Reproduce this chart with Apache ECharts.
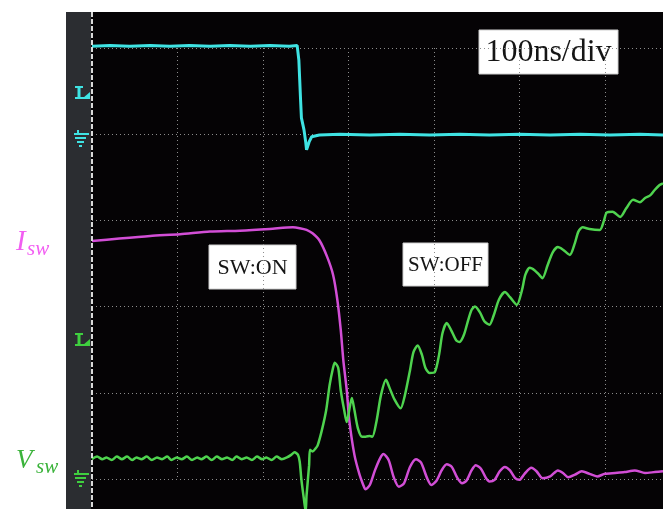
<!DOCTYPE html>
<html>
<head>
<meta charset="utf-8">
<script src="https://cdn.jsdelivr.net/npm/echarts@6/dist/echarts.min.js"></script>
<style>
html,body{margin:0;padding:0;background:#fff;}
#chart{width:671px;height:509px;}
</style>
</head>
<body>
<div id="chart"></div>
<script>
// time axis in ns (100 ns/div), vertical in screen divisions
const timeDiv = 100;
const vertDiv = 1;
const timeSpan = 668;
const vertSpan = 5;

// Channel 1 (cyan): gate drive
const cyanTrace = [[0,5.02],[21,5.03],[44,5.02],[68,5.03],[91,5.02],[114,5.03],[138,5.02],[161,5.03],[185,5.02],[208,5.03],[231,5.02],[240,5.03],
  [242,4.86],[243,4.63],[244,4.40],[245,4.19],[248,4.05],[250,3.91],[251,3.82],[254,3.91],[257,3.97],[266,3.99],[290,4.00],[325,3.99],[360,4.00],
  [395,3.99],[430,4.00],[465,3.99],[500,4.00],[536,3.99],[571,4.00],[606,3.99],[641,4.00],[668,3.99]];

// Isw (magenta)
const iswTrace = [[0,2.76],[32,2.79],[68,2.82],[103,2.84],[138,2.87],[173,2.88],[208,2.90],[235,2.92],[243,2.91],[251,2.89],[258,2.85],[266,2.77],
  [275,2.58],[282,2.37],[287,2.08],[291,1.73],[294,1.38],[298,1.03],[301,0.68],[307,0.28],[313,0.05],[317,-0.06],[320,-0.12],[325,-0.07],
  [331,0.10],[337,0.24],[341,0.29],[347,0.22],[353,0.02],[359,-0.09],[365,-0.05],[372,0.14],[379,0.23],[385,0.19],[392,0.01],[397,-0.07],
  [403,-0.02],[409,0.10],[415,0.17],[421,0.14],[427,0.02],[433,-0.05],[438,-0.02],[444,0.10],[449,0.16],[455,0.12],[461,0.01],[465,-0.03],
  [471,-0.01],[477,0.09],[483,0.14],[489,0.10],[495,0.01],[500,-0.01],[506,0.06],[514,0.13],[520,0.09],[527,0.01],[536,0.03],[545,0.10],
  [551,0.07],[557,0.02],[565,0.05],[573,0.09],[582,0.06],[591,0.03],[600,0.06],[612,0.07],[623,0.08],[635,0.10],[647,0.07],[658,0.08],[668,0.09]];

// Vsw (green)
const vswTrace = [[0,0.23],[6,0.26],[12,0.23],[17,0.25],[23,0.22],[29,0.26],[35,0.23],[41,0.26],[47,0.22],[52,0.25],[58,0.23],[64,0.26],
  [70,0.22],[76,0.25],[82,0.23],[88,0.26],[93,0.22],[99,0.25],[105,0.23],[111,0.26],[117,0.22],[123,0.25],[128,0.23],[134,0.26],[140,0.22],
  [146,0.26],[152,0.23],[158,0.25],[164,0.22],[169,0.26],[175,0.23],[181,0.25],[187,0.22],[193,0.26],[199,0.23],[204,0.25],[210,0.22],
  [216,0.26],[222,0.23],[228,0.25],[233,0.28],[237,0.31],[241,0.28],[243,0.20],[245,-0.01],[248,-0.24],[250,-0.38],[251,-0.19],[254,0.16],
  [255,0.34],[258,0.32],[262,0.36],[264,0.39],[269,0.57],[274,0.80],[278,1.09],[282,1.29],[284,1.35],[288,1.29],[291,1.03],[295,0.80],
  [298,0.66],[302,0.86],[304,0.94],[307,0.80],[311,0.59],[316,0.49],[320,0.49],[325,0.50],[328,0.49],[333,0.68],[338,0.97],[344,1.15],
  [348,1.06],[354,0.92],[361,0.82],[366,0.97],[372,1.26],[376,1.47],[381,1.55],[386,1.44],[390,1.29],[395,1.23],[401,1.24],[406,1.44],
  [410,1.69],[415,1.81],[420,1.73],[426,1.61],[430,1.59],[435,1.67],[440,1.84],[444,1.96],[448,2.00],[454,1.93],[459,1.83],[465,1.79],
  [470,1.90],[476,2.08],[483,2.17],[489,2.11],[497,2.02],[503,2.19],[507,2.37],[512,2.45],[518,2.42],[523,2.37],[527,2.33],[533,2.48],
  [539,2.63],[545,2.69],[551,2.66],[559,2.60],[565,2.74],[569,2.87],[574,2.92],[582,2.90],[594,2.89],[599,3.00],[602,3.09],[609,3.10],
  [618,3.04],[625,3.14],[633,3.24],[641,3.21],[647,3.26],[653,3.29],[658,3.35],[664,3.41],[668,3.43]];

const boxTexts = ['SW:ON', 'SW:OFF', '100ns/div'];
const currentLabel = ['I', 'sw'];
const voltageLabel = ['V', 'sw'];

const CYAN = '#3fe3e3', MAG = '#d24ed6', GRN = '#4fd34f';
const SERIF = '"Liberation Serif","Times New Roman",serif';

function groundSymbol(x, y, color) {
  return {
    type: 'group', x: x, y: y, z: 6,
    children: [
      {type: 'line', shape: {x1: 0, y1: 0, x2: 15, y2: 0}, style: {stroke: color, lineWidth: 2}},
      {type: 'line', shape: {x1: 4, y1: -4, x2: 4, y2: 0}, style: {stroke: color, lineWidth: 2}},
      {type: 'line', shape: {x1: 1, y1: 4, x2: 12, y2: 4}, style: {stroke: color, lineWidth: 2}},
      {type: 'line', shape: {x1: 3, y1: 8, x2: 10, y2: 8}, style: {stroke: color, lineWidth: 2}},
      {type: 'line', shape: {x1: 5, y1: 12, x2: 8, y2: 12}, style: {stroke: color, lineWidth: 2}}
    ]
  };
}
function chanMarker(x, y, color) {
  return {
    type: 'group', x: x, y: y, z: 6,
    children: [
      {type: 'line', shape: {x1: 0, y1: 0, x2: 8, y2: 0}, style: {stroke: color, lineWidth: 2}},
      {type: 'line', shape: {x1: 4, y1: 0, x2: 4, y2: 11}, style: {stroke: color, lineWidth: 3}},
      {type: 'line', shape: {x1: 0, y1: 11, x2: 15, y2: 11}, style: {stroke: color, lineWidth: 2}},
      {type: 'polygon', shape: {points: [[8, 11], [15, 11], [15, 5]]}, style: {fill: color}}
    ]
  };
}
function textBox(x, y, w, h, txt, size) {
  return {
    type: 'group', x: x, y: y, z: 20,
    children: [
      {type: 'rect', shape: {x: 0, y: 0, width: w, height: h}, style: {fill: '#ffffff', stroke: '#cfcfcf', lineWidth: 1}},
      {type: 'text', x: w / 2, y: h / 2 + 1, style: {text: txt, fill: '#151515', font: size + 'px ' + SERIF, align: 'center', verticalAlign: 'middle'}}
    ]
  };
}

const chart = echarts.init(document.getElementById('chart'), null, {renderer: 'canvas'});
chart.setOption({
  animation: false,
  backgroundColor: '#ffffff',
  grid: {left: 92, right: 8, top: 48, bottom: 30, containLabel: false},
  xAxis: {
    type: 'value', min: 0, max: timeSpan, interval: timeDiv,
    axisLine: {show: false}, axisTick: {show: false}, axisLabel: {show: false},
    splitLine: {show: true, showMinLine: false, showMaxLine: false, lineStyle: {color: '#8c8c8c', width: 1, type: [1, 3]}}
  },
  yAxis: {
    type: 'value', min: 0, max: vertSpan, interval: vertDiv,
    axisLine: {show: false}, axisTick: {show: false}, axisLabel: {show: false},
    splitLine: {show: true, lineStyle: {color: '#8c8c8c', width: 1, type: [1, 3]}}
  },
  series: [
    {type: 'line', data: cyanTrace, showSymbol: false, clip: false, lineStyle: {color: CYAN, width: 3}, z: 3},
    {type: 'line', data: iswTrace, showSymbol: false, clip: false, smooth: 0.25, lineStyle: {color: MAG, width: 2.5}, z: 4},
    {type: 'line', data: vswTrace, showSymbol: false, clip: false, smooth: 0.25, lineStyle: {color: GRN, width: 2.5}, z: 4}
  ],
  graphic: [
    {type: 'rect', z: -10, shape: {x: 66, y: 12, width: 597, height: 497}, style: {fill: '#050305'}},
    {type: 'rect', z: -9, shape: {x: 66, y: 12, width: 25, height: 497}, style: {fill: '#2b2d31'}},
    {type: 'line', z: 5, shape: {x1: 92, y1: 12, x2: 92, y2: 509}, style: {stroke: '#d9d9d9', lineWidth: 2, lineDash: [5, 2]}},
    chanMarker(75, 87, CYAN),
    groundSymbol(74, 134, CYAN),
    chanMarker(75, 334, '#3fcf3f'),
    groundSymbol(74, 474, '#3fcf3f'),
    textBox(209, 245, 87, 44, boxTexts[0], 22),
    textBox(403, 243, 85, 43, boxTexts[1], 21),
    textBox(479, 30, 139, 44, boxTexts[2], 32),
    {type: 'text', x: 16, y: 242, z: 10, style: {text: currentLabel[0], fill: '#f25ef2', font: 'italic 29px ' + SERIF, verticalAlign: 'middle'}},
    {type: 'text', x: 27, y: 249, z: 10, style: {text: currentLabel[1], fill: '#f25ef2', font: 'italic 21px ' + SERIF, verticalAlign: 'middle'}},
    {type: 'text', x: 16, y: 461, z: 10, style: {text: voltageLabel[0], fill: '#3bb33b', font: 'italic 27px ' + SERIF, verticalAlign: 'middle'}},
    {type: 'text', x: 36, y: 467, z: 10, style: {text: voltageLabel[1], fill: '#3bb33b', font: 'italic 21px ' + SERIF, verticalAlign: 'middle'}}
  ]
});
</script>
</body>
</html>
